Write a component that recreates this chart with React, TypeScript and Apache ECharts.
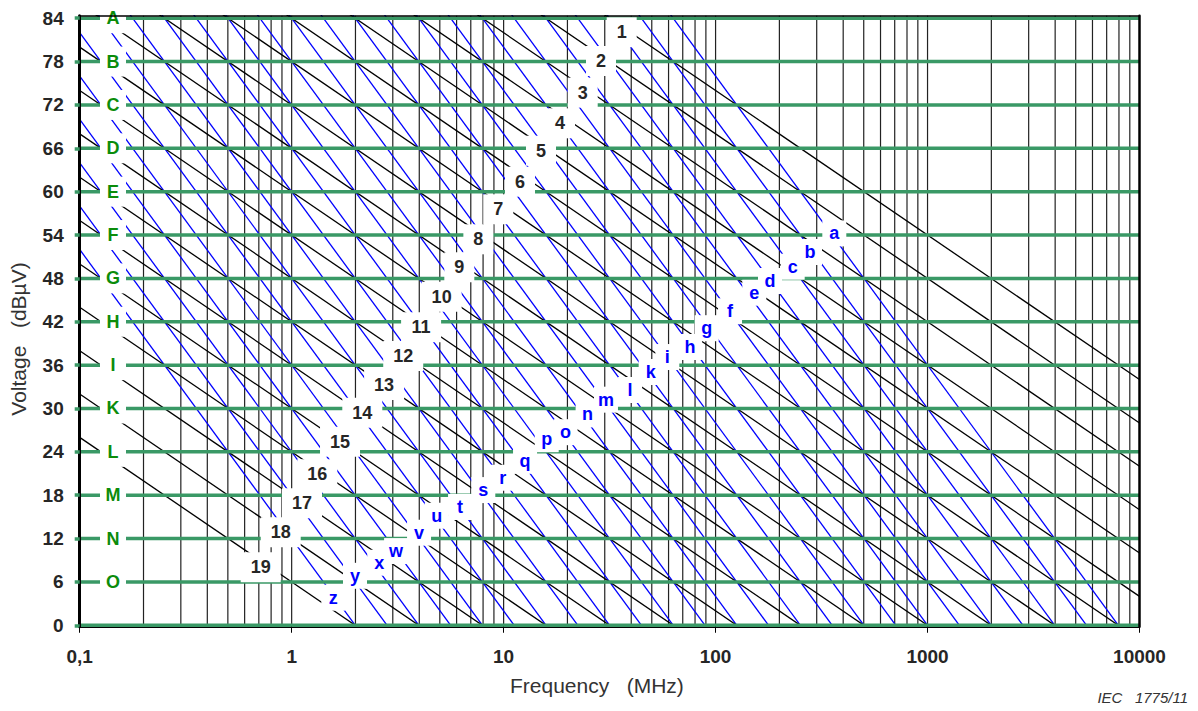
import React, { useEffect, useRef } from 'react';
import * as echarts from 'echarts';

// ---- data ----
const FONT = '"Liberation Sans", Arial, Helvetica, sans-serif';

// horizontal (green) voltage levels, dBµV
const greenLevels = [84, 78, 72, 66, 60, 54, 48, 42, 36, 30, 24, 18, 12, 6, 0];
const greenLetters = ['A', 'B', 'C', 'D', 'E', 'F', 'G', 'H', 'I', 'K', 'L', 'M', 'N', 'O'];
const greenLetterFreq = 0.1436;

// black lines: V = c - 20·log10(f)
const blackSlope = -20;
const blackIntercepts = [114, 108, 102, 96, 90, 84, 78, 72, 66, 60, 54, 48, 42, 36, 30, 24, 18, 12, 6];
const blackLabels = ['1', '2', '3', '4', '5', '6', '7', '8', '9', '10', '11', '12', '13', '14', '15', '16', '17', '18', '19'];
const blackLabelFreq = [36.06, 28.8, 23.61, 18.45, 15.01, 11.95, 9.44, 7.6, 6.18, 5.1, 4.08, 3.36, 2.73, 2.154, 1.691, 1.321, 1.119, 0.888, 0.7144];
const blackLabelVolt = [82.05, 78.08, 73.7, 69.46, 65.67, 61.38, 57.56, 53.41, 49.54, 45.47, 41.23, 37.26, 33.25, 29.42, 25.4, 20.89, 16.88, 12.87, 8.02];

// blue lines: V = c - 40·log10(f)
const blueSlope = -40;
const blueIntercepts = [156, 150, 144, 138, 132, 126, 120, 114, 108, 102, 96, 90, 84, 78, 72, 66, 60, 54, 48, 42, 36, 30, 24, 18, 12];
const blueLabels = ['a', 'b', 'c', 'd', 'e', 'f', 'g', 'h', 'i', 'k', 'l', 'm', 'n', 'o', 'p', 'q', 'r', 's', 't', 'u', 'v', 'w', 'x', 'y', 'z'];
const blueLabelFreq = [363.2, 278.9, 231.1, 180.6, 152.3, 117.0, 90.8, 75.7, 59.2, 49.4, 39.5, 30.4, 24.9, 19.6, 15.97, 12.62, 9.9, 8.02, 6.23, 4.83, 3.99, 3.11, 2.59, 1.99, 1.572];
const blueLabelVolt = [54.23, 51.65, 49.62, 47.64, 46.02, 43.45, 41.11, 38.51, 37.12, 35.05, 32.56, 31.22, 29.18, 26.72, 25.75, 22.76, 20.42, 18.71, 16.37, 15.16, 12.81, 10.27, 8.66, 6.85, 3.82];

// axes
const freqMin = 0.1;
const freqMax = 10000;
const voltMin = -0.2;
const voltMax = 84.35;
const yTickValues = [0, 6, 12, 18, 24, 30, 36, 42, 48, 54, 60, 66, 72, 78, 84];
const gridDecades = [0.1, 1, 10, 100, 1000];
const gridMultipliers = [1, 2, 3, 4, 5, 6, 7, 8, 9];

const GREEN = '#3a9966';
const GREEN_TEXT = '#0b8c0b';
const BLUE = '#0000ff';
const TEXT = '#262626';

function lineThrough(c: number, slope: number) {
  return [
    [freqMin, c + slope * Math.log10(freqMin)],
    [freqMax, c + slope * Math.log10(freqMax)],
  ];
}

function buildOption(): any {
  const series: any[] = [];
  const base = { type: 'line', showSymbol: false, symbol: 'none', silent: true, clip: true, animation: false };

  // vertical grid
  gridDecades.forEach((d) => {
    gridMultipliers.forEach((m) => {
      const f = d * m;
      if (f <= freqMin * 1.0001) return;
      series.push({ ...base, z: 1, data: [[f, voltMin], [f, voltMax]], lineStyle: { color: '#222', width: 1.2 } });
    });
  });

  // blue lines
  blueIntercepts.forEach((c) => {
    series.push({ ...base, z: 2, data: lineThrough(c, blueSlope), lineStyle: { color: BLUE, width: 1.3 } });
  });
  // black lines
  blackIntercepts.forEach((c) => {
    series.push({ ...base, z: 2, data: lineThrough(c, blackSlope), lineStyle: { color: '#000', width: 1.3 } });
  });
  // green levels
  greenLevels.forEach((v) => {
    series.push({ ...base, z: 3, data: [[freqMin, v], [freqMax, v]], lineStyle: { color: GREEN, width: 3.5 } });
  });

  const labelBase = {
    type: 'scatter',
    symbol: 'rect',
    silent: true,
    z: 5,
    itemStyle: { color: '#ffffff', opacity: 1 },
    emphasis: { disabled: true },
  };
  const labelStyle = { show: true, position: 'inside', opacity: 1, fontWeight: 'bold', fontSize: 18, fontFamily: FONT, formatter: (p: any) => p.value[2] };

  series.push({
    ...labelBase,
    symbolSize: [26, 30],
    data: greenLetters.map((t, i) => [greenLetterFreq, greenLevels[i], t]),
    label: { ...labelStyle, color: GREEN_TEXT },
  });
  series.push({
    ...labelBase,
    symbolSize: (v: any) => [String(v[2]).length > 1 ? 40 : 30, 30],
    data: blackLabels.map((t, i) => [blackLabelFreq[i], blackLabelVolt[i], t]),
    label: { ...labelStyle, color: TEXT },
  });
  series.push({
    ...labelBase,
    symbolSize: [24, 26],
    data: blueLabels.map((t, i) => [blueLabelFreq[i], blueLabelVolt[i], t]),
    label: { ...labelStyle, color: BLUE },
  });

  return {
    animation: false,
    backgroundColor: '#ffffff',
    grid: { left: 79.7, right: 58.5, top: 15.7, bottom: 84.25, containLabel: false },
    xAxis: [
      {
        type: 'log', logBase: 10, min: freqMin, max: freqMax, position: 'bottom', z: 10,
        axisLine: { show: true, onZero: false, lineStyle: { color: '#000', width: 1 } },
        axisTick: { show: true, length: 6, lineStyle: { color: '#000', width: 1 } },
        axisLabel: {
          margin: 20, color: TEXT, fontWeight: 'bold', fontSize: 19, fontFamily: FONT,
          formatter: (v: number) => (v < 1 ? '0,1' : String(Math.round(v))),
        },
        splitLine: { show: false },
        minorTick: { show: false },
      },
      {
        type: 'value', min: 0, max: 1, position: 'top', z: 10,
        axisLine: { show: true, onZero: false, lineStyle: { color: '#000', width: 1.5 } },
        axisTick: { show: false }, axisLabel: { show: false }, splitLine: { show: false },
      },
    ],
    yAxis: [
      {
        type: 'value', min: voltMin, max: voltMax, position: 'left', z: 10,
        axisLine: { show: true, onZero: false, lineStyle: { color: '#000', width: 3 } },
        axisTick: { show: true, length: 5, customValues: yTickValues, lineStyle: { color: GREEN, width: 3.5 } },
        axisLabel: {
          customValues: yTickValues, margin: 16, color: TEXT, fontWeight: 'bold', fontSize: 19, fontFamily: FONT,
        },
        splitLine: { show: false },
      },
      {
        type: 'value', min: 0, max: 1, position: 'right', z: 10,
        axisLine: { show: true, onZero: false, lineStyle: { color: '#000', width: 2.5 } },
        axisTick: { show: false }, axisLabel: { show: false }, splitLine: { show: false },
      },
    ],
    graphic: [
      {
        type: 'text', x: 510, y: 685.5, silent: true,
        style: {
          text: 'Frequency   (MHz)', fill: '#333', fontSize: 21, fontFamily: FONT,
          align: 'left', textAlign: 'left', verticalAlign: 'middle', textVerticalAlign: 'middle',
        },
      },
      {
        type: 'text', x: 18.5, y: 339, rotation: Math.PI / 2, silent: true,
        style: {
          text: 'Voltage   (dBµV)', fill: '#333', fontSize: 21, fontFamily: FONT,
          align: 'center', textAlign: 'center', verticalAlign: 'middle', textVerticalAlign: 'middle',
        },
      },
      {
        type: 'text', x: 1188, y: 697.5, silent: true,
        style: {
          text: 'IEC   1775/11', fill: '#333', fontSize: 15, fontStyle: 'italic', fontFamily: FONT,
          align: 'right', textAlign: 'right', verticalAlign: 'middle', textVerticalAlign: 'middle',
        },
      },
    ],
    series,
  };
}

export default function App() {
  const ref = useRef<HTMLDivElement>(null);
  useEffect(() => {
    if (!ref.current) return;
    const chart = echarts.init(ref.current, null, { renderer: 'svg' });
    chart.setOption(buildOption());
    return () => chart.dispose();
  }, []);
  return (
    <div
      ref={ref}
      style={{ position: 'fixed', left: 0, top: 0, width: 1198, height: 711, background: '#fff' }}
    />
  );
}
